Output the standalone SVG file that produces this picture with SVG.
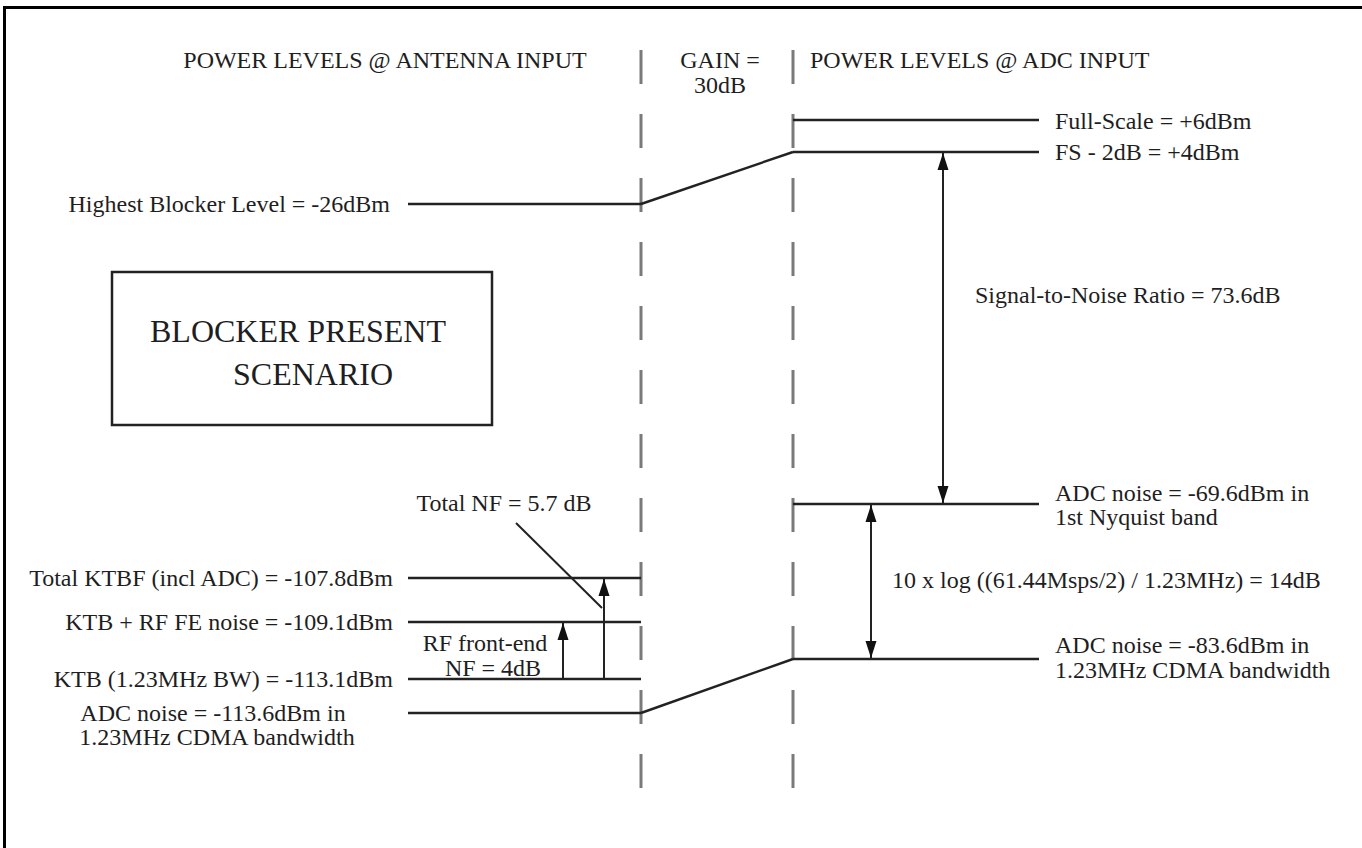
<svg xmlns="http://www.w3.org/2000/svg" width="1362" height="848" viewBox="0 0 1362 848">
<defs>
<marker id="ah" markerUnits="userSpaceOnUse" markerWidth="18" markerHeight="12" refX="17" refY="6" orient="auto-start-reverse" viewBox="0 0 18 12">
<path d="M0,0.5 L17,6 L0,11.5 z" fill="#111"/>
</marker>
</defs>
<style>
text{font-family:"Liberation Serif","Times New Roman",serif;font-size:24px;fill:#1e1e1e}
.big{font-size:32px}
.lvl{stroke:#222;stroke-width:2.4;fill:none}
.dash{stroke:#7a7a7a;stroke-width:3;stroke-dasharray:34 30;fill:none}
.arr{stroke:#222;stroke-width:2;fill:none}
.end{text-anchor:end}
.mid{text-anchor:middle}
</style>
<rect x="0" y="0" width="1362" height="848" fill="#fff"/>
<path d="M4.5,848 V7.5 H1362" fill="none" stroke="#000" stroke-width="3"/>

<g id="dividers">
<line class="dash" x1="641" y1="50" x2="641" y2="790"/>
<line class="dash" x1="793" y1="50" x2="793" y2="790"/>
</g>

<g id="headers">
<text x="385" y="68" class="mid">POWER LEVELS @ ANTENNA INPUT</text>
<text x="720" y="68" class="mid">GAIN =</text>
<text x="720" y="93" class="mid">30dB</text>
<text x="810" y="68">POWER LEVELS @ ADC INPUT</text>
</g>

<g id="scenario-box">
<rect x="112" y="272" width="380" height="153" fill="none" stroke="#222" stroke-width="2.5"/>
<text x="298" y="342" class="big mid">BLOCKER PRESENT</text>
<text x="313" y="385" class="big mid">SCENARIO</text>
</g>

<g id="connectors">
<line class="lvl" x1="793" y1="120" x2="1039" y2="120"/>
<line class="lvl" x1="793" y1="152" x2="1039" y2="152"/>
<line class="lvl" x1="408" y1="204" x2="641" y2="204"/>
<line class="lvl" x1="641" y1="204" x2="793" y2="152"/>
<line class="lvl" x1="793" y1="504" x2="1039" y2="504"/>
<line class="lvl" x1="793" y1="659" x2="1039" y2="659"/>
<line class="lvl" x1="408" y1="578" x2="641" y2="578"/>
<line class="lvl" x1="408" y1="622" x2="641" y2="622"/>
<line class="lvl" x1="408" y1="679" x2="641" y2="679"/>
<line class="lvl" x1="408" y1="713" x2="641" y2="713"/>
<line class="lvl" x1="641" y1="713" x2="793" y2="659"/>
<line class="arr" x1="943" y1="153" x2="943" y2="503" marker-start="url(#ah)" marker-end="url(#ah)"/>
<line class="arr" x1="871" y1="505" x2="871" y2="658" marker-start="url(#ah)" marker-end="url(#ah)"/>
<line class="arr" x1="563" y1="679" x2="563" y2="623" marker-end="url(#ah)"/>
<line class="arr" x1="604" y1="679" x2="604" y2="579" marker-end="url(#ah)"/>
<line class="arr" x1="516" y1="523" x2="602" y2="608"/>
</g>

<g id="right-labels">
<text x="1055" y="129">Full-Scale = +6dBm</text>
<text x="1055" y="160">FS - 2dB = +4dBm</text>
<text x="975" y="303">Signal-to-Noise Ratio = 73.6dB</text>
<text x="1055" y="501">ADC noise = -69.6dBm in</text>
<text x="1055" y="525">1st Nyquist band</text>
<text x="892" y="588">10 x log ((61.44Msps/2) / 1.23MHz) = 14dB</text>
<text x="1055" y="653">ADC noise = -83.6dBm in</text>
<text x="1055" y="678">1.23MHz CDMA bandwidth</text>
</g>

<g id="left-labels">
<text x="390" y="212" class="end">Highest Blocker Level = -26dBm</text>
<text x="504" y="511" class="mid">Total NF = 5.7 dB</text>
<text x="393" y="586" class="end">Total KTBF (incl ADC) = -107.8dBm</text>
<text x="393" y="630" class="end">KTB + RF FE noise = -109.1dBm</text>
<text x="485" y="651" class="mid">RF front-end</text>
<text x="493" y="676" class="mid">NF = 4dB</text>
<text x="393" y="687" class="end">KTB (1.23MHz BW) = -113.1dBm</text>
<text x="213" y="721" class="mid">ADC noise = -113.6dBm in</text>
<text x="217" y="745" class="mid">1.23MHz CDMA bandwidth</text>
</g>
</svg>
